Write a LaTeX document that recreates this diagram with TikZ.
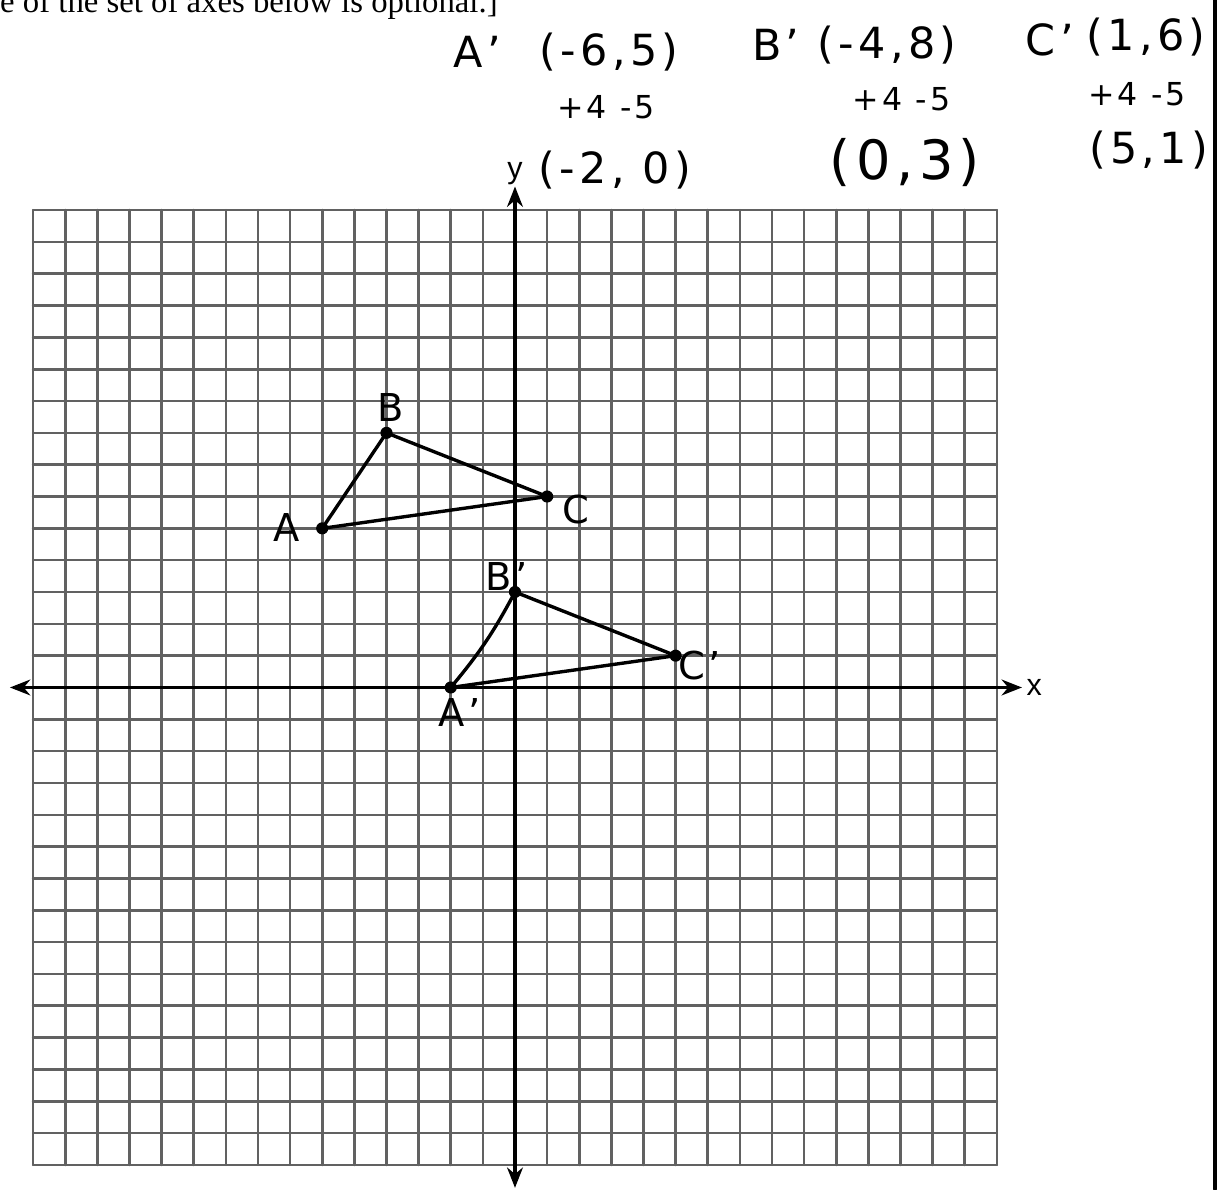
\documentclass[tikz,border=0pt]{standalone}
\usepackage{fontspec}
\setmainfont{Liberation Serif}
\newfontfamily\handfont[LetterSpace=10]{DejaVu Sans}
\newfontfamily\axisfont{Liberation Sans}
\usetikzlibrary{arrows.meta,positioning}

\tikzset{
  gridline/.style={black!62,line width=2.3pt},
  axisline/.style={line width=2.8pt,
    {Stealth[length=18pt,width=14pt]}-{Stealth[length=18pt,width=14pt]}},
  sideline/.style={line width=3pt},
  axislabel/.style={font=\axisfont\fontsize{27}{27}\selectfont,inner sep=1pt},
  hand/.style={font=\handfont\fontsize{38}{38}\selectfont,inner sep=0pt},
  handsmall/.style={font=\handfont\fontsize{28}{28}\selectfont,inner sep=0pt},
  ptlabel/.style={font=\handfont\fontsize{34}{34}\selectfont,inner sep=0pt}
}

\begin{document}
\begin{tikzpicture}[x=1cm,y=0.9907cm,line cap=round]
  \useasboundingbox (-16.03,-15.76) rectangle (22.10,21.60);
  \clip (-16.03,-15.76) rectangle (22.10,21.60);

  % printed instruction, cut at the top edge
  \node[anchor=base west,inner sep=0pt,font=\fontsize{29}{29}\selectfont]
    (instr) at (-16.03,21.20) {e of the set of axes below is optional.]};

  % grid
  \foreach \k in {-15,...,15} {
    \draw[gridline] (\k,-15) -- (\k,15);
    \draw[gridline] (-15,\k) -- (15,\k);
  }

  % axes
  \coordinate (xleft) at (-15.72,0);
  \coordinate (xright) at (15.78,0);
  \coordinate (ybottom) at (0,-15.72);
  \coordinate (ytop) at (0,15.74);
  \draw[axisline] (xleft) -- (xright);
  \draw[axisline] (ybottom) -- (ytop);
  \node[axislabel,right=3pt of xright] (xlab) {x};
  \node[axislabel,above=0pt of ytop] (ylab) {y};

  % triangle ABC and its image
  \coordinate (A) at (-6,5);
  \coordinate (B) at (-4,8);
  \coordinate (C) at (1,6);
  \coordinate (Ap) at (-2,0);
  \coordinate (Bp) at (0,3);
  \coordinate (Cp) at (5,1);
  \draw[sideline] (A) -- (B) -- (C) -- cycle;
  \draw[sideline] (Ap) to[bend right=6] (Bp) -- (Cp) -- cycle;
  \foreach \p in {A,B,C,Ap,Bp,Cp}
    \fill (\p) circle (0.19);

  \node[ptlabel] (labA) at (-7.10,5.03) {A};
  \node[ptlabel] (labB) at (-3.86,8.80) {B};
  \node[ptlabel] (labC) at (1.90,5.60) {C};
  \node[ptlabel] (labAp) at (-1.72,-0.80) {A’};
  \node[ptlabel] (labBp) at (-0.25,3.50) {B’};
  \node[ptlabel] (labCp) at (5.75,0.69) {C’};

  % handwritten work
  \node[hand] (nameA) at (-1.18,19.98) {A’};
  \node[hand] (oldA) at (2.93,19.98) {(-6,5)};
  \node[handsmall] (stepA) at (2.83,18.22) {+4 -5};
  \node[hand] (newA) at (3.11,16.27) {(-2, 0)};

  \node[hand] (nameB) at (8.12,20.20) {B’};
  \node[hand] (oldB) at (11.58,20.20) {(-4,8)};
  \node[handsmall] (stepB) at (12.04,18.47) {+4 -5};
  \node[hand,font=\handfont\fontsize{48}{48}\selectfont] (newB) at (12.14,16.49) {(0,3)};

  \node[hand] (nameC) at (16.65,20.36) {C’};
  \node[hand] (oldC) at (19.65,20.42) {(1,6)};
  \node[handsmall] (stepC) at (19.36,18.63) {+4 -5};
  \node[hand] (newC) at (19.72,16.90) {(5,1)};

  % page edge
  \draw[line width=3.5pt] (21.79,21.60) -- (21.79,-15.76);
\end{tikzpicture}
\end{document}
